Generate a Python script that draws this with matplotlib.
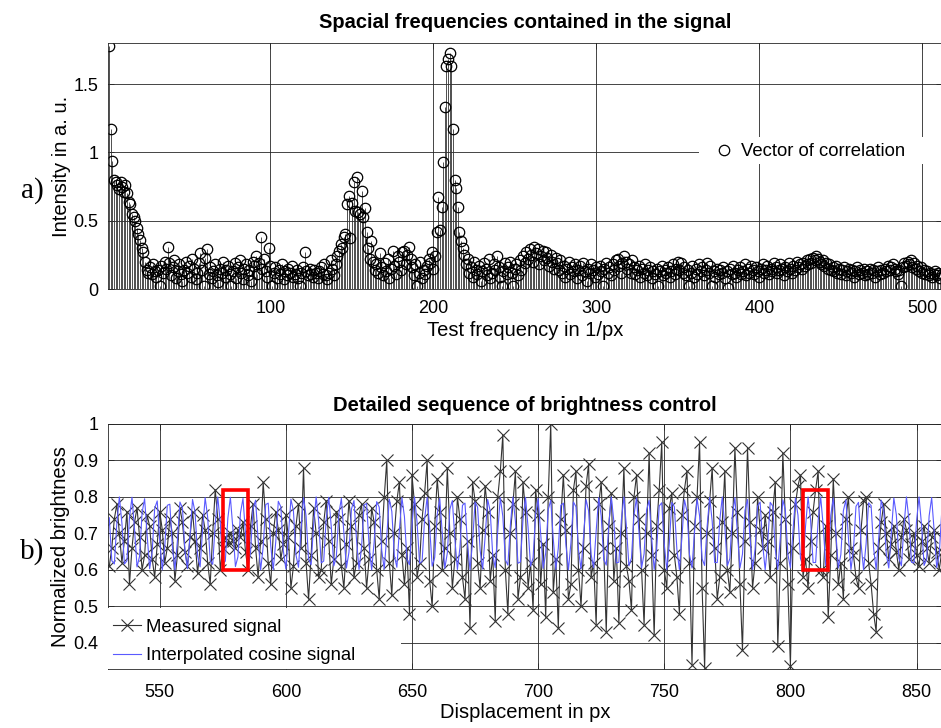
import numpy as np
import matplotlib
matplotlib.use("Agg")
import matplotlib.pyplot as plt
from matplotlib.patches import Rectangle

plt.rcParams['font.family'] = ['Liberation Sans', 'DejaVu Sans']

# ---- a) correlation vector, test frequency 1..512 ----
corr = [
    1.78, 1.17, 0.94, 0.80, 0.78, 0.76, 0.73, 0.78, 0.75, 0.71,
    0.76, 0.70, 0.64, 0.62, 0.55, 0.53, 0.50, 0.45, 0.40, 0.36,
    0.30, 0.27, 0.20, 0.14, 0.12,
    0.16, 0.11, 0.18, 0.13, 0.09, 0.14, 0.02, 0.17, 0.12, 0.20,
    0.15, 0.31, 0.19, 0.10, 0.16, 0.21, 0.08, 0.13, 0.18, 0.11,
    0.06, 0.14, 0.20, 0.12, 0.17, 0.09, 0.22, 0.15, 0.07, 0.12,
    0.19, 0.26, 0.14, 0.02, 0.23, 0.29, 0.11, 0.16, 0.08, 0.13,
    0.18, 0.10, 0.05, 0.15, 0.12, 0.20, 0.09, 0.14, 0.17, 0.11,
    0.02, 0.13, 0.19, 0.08, 0.16, 0.21, 0.12, 0.07, 0.15, 0.18,
    0.10, 0.14, 0.06, 0.20, 0.17, 0.24, 0.11, 0.19, 0.38, 0.15,
    0.22, 0.13, 0.09, 0.30, 0.17, 0.02, 0.12, 0.16, 0.08, 0.14,
    0.11, 0.18, 0.07, 0.13, 0.10, 0.15, 0.12, 0.17, 0.09, 0.11,
    0.14, 0.08, 0.02, 0.12, 0.16, 0.27, 0.13, 0.10, 0.15, 0.11,
    0.09, 0.14, 0.12, 0.08, 0.13, 0.16, 0.11, 0.18, 0.10, 0.07,
    0.12, 0.21, 0.15, 0.10, 0.18, 0.24, 0.28, 0.33, 0.30, 0.38,
    0.40, 0.62, 0.68, 0.37, 0.63, 0.78, 0.57, 0.82, 0.56, 0.55,
    0.72, 0.53, 0.59, 0.42, 0.30, 0.22, 0.35, 0.20, 0.14, 0.18,
    0.12, 0.26, 0.16, 0.10, 0.19, 0.13, 0.22, 0.08, 0.15, 0.28,
    0.17, 0.11, 0.24, 0.20, 0.14, 0.27, 0.28, 0.18, 0.25, 0.31,
    0.22, 0.16, 0.10, 0.18, 0.02, 0.12, 0.20, 0.08, 0.14, 0.11,
    0.17, 0.22, 0.19, 0.27, 0.15, 0.24, 0.42, 0.67, 0.43, 0.60,
    0.93, 1.33, 1.63, 1.68, 1.73, 1.63, 1.17, 0.80, 0.74, 0.60,
    0.42, 0.35, 0.30, 0.25, 0.18, 0.22, 0.12, 0.16, 0.09, 0.20,
    0.14, 0.11, 0.17, 0.06, 0.13, 0.19, 0.15, 0.10, 0.22, 0.08,
    0.12, 0.18, 0.14, 0.24, 0.16, 0.09, 0.02, 0.13, 0.19, 0.11,
    0.16, 0.20, 0.12, 0.02, 0.15, 0.18, 0.10, 0.21, 0.14, 0.24,
    0.19, 0.27, 0.22, 0.29, 0.25, 0.20, 0.31, 0.26, 0.29, 0.18,
    0.24, 0.28, 0.21, 0.27, 0.23, 0.17, 0.25, 0.20, 0.15, 0.23,
    0.19, 0.14, 0.21, 0.12, 0.17, 0.09, 0.15, 0.20, 0.11, 0.16,
    0.13, 0.18, 0.08, 0.14, 0.17, 0.10, 0.19, 0.13, 0.06, 0.15,
    0.12, 0.18, 0.14, 0.09, 0.16, 0.11, 0.17, 0.13, 0.02, 0.15,
    0.19, 0.12, 0.16, 0.10, 0.18, 0.14, 0.21, 0.22, 0.17, 0.12,
    0.19, 0.24, 0.20, 0.15, 0.18, 0.12, 0.21, 0.16, 0.11, 0.14,
    0.17, 0.09, 0.15, 0.12, 0.18, 0.10, 0.14, 0.16, 0.08, 0.13,
    0.11, 0.15, 0.02, 0.13, 0.17, 0.10, 0.14, 0.12, 0.16, 0.09,
    0.13, 0.18, 0.11, 0.15, 0.20, 0.14, 0.19, 0.12, 0.16, 0.10,
    0.14, 0.02, 0.12, 0.17, 0.09, 0.15, 0.11, 0.18, 0.13, 0.16,
    0.10, 0.14, 0.19, 0.12, 0.17, 0.02, 0.13, 0.09, 0.15, 0.11,
    0.14, 0.12, 0.16, 0.08, 0.13, 0.01, 0.15, 0.11, 0.17, 0.12,
    0.09, 0.14, 0.16, 0.11, 0.13, 0.18, 0.10, 0.15, 0.12, 0.17,
    0.14, 0.11, 0.16, 0.13, 0.09, 0.15, 0.18, 0.12, 0.14, 0.17,
    0.11, 0.15, 0.13, 0.19, 0.16, 0.12, 0.14, 0.18, 0.15, 0.10,
    0.16, 0.13, 0.19, 0.15, 0.12, 0.17, 0.14, 0.20, 0.16, 0.18,
    0.15, 0.19, 0.17, 0.21, 0.18, 0.22, 0.19, 0.23, 0.21, 0.24,
    0.22, 0.20, 0.18, 0.21, 0.17, 0.19, 0.15, 0.18, 0.14, 0.16,
    0.13, 0.17, 0.12, 0.15, 0.11, 0.14, 0.16, 0.10, 0.13, 0.15,
    0.12, 0.14, 0.09, 0.13, 0.16, 0.11, 0.14, 0.12, 0.15, 0.10,
    0.13, 0.11, 0.15, 0.12, 0.14, 0.09, 0.13, 0.16, 0.11, 0.14,
    0.12, 0.15, 0.13, 0.17, 0.14, 0.16, 0.18, 0.15, 0.13, 0.11,
    0.14, 0.02, 0.16, 0.19, 0.17, 0.20, 0.18, 0.21, 0.16, 0.19,
    0.15, 0.17, 0.13, 0.16, 0.12, 0.14, 0.11, 0.13, 0.10, 0.12,
    0.09, 0.11, 0.13, 0.10, 0.12, 0.08, 0.11,
]
freq = np.arange(1, len(corr) + 1)

# ---- b) brightness sequence, displacement 530..860 px ----
disp_start = 530
measured = [
    0.61, 0.66, 0.74, 0.78, 0.70, 0.62, 0.68, 0.76, 0.56, 0.66,
    0.73, 0.77, 0.69, 0.60, 0.64, 0.75, 0.72, 0.63, 0.58, 0.67,
    0.76, 0.71, 0.62, 0.66, 0.74, 0.70, 0.57, 0.64, 0.77, 0.73,
    0.65, 0.61, 0.69, 0.76, 0.68, 0.59, 0.66, 0.75, 0.71, 0.62,
    0.56, 0.70, 0.82, 0.74, 0.60, 0.66, 0.69, 0.67, 0.70, 0.68,
    0.66, 0.71, 0.69, 0.73, 0.65, 0.60, 0.72, 0.78, 0.66, 0.58,
    0.68, 0.84, 0.74, 0.62, 0.56, 0.70, 0.76, 0.71, 0.63, 0.67,
    0.75, 0.69, 0.55, 0.61, 0.72, 0.78, 0.66, 0.88, 0.62, 0.52,
    0.64, 0.77, 0.70, 0.58, 0.60, 0.73, 0.79, 0.68, 0.56, 0.63,
    0.76, 0.74, 0.61, 0.55, 0.67, 0.79, 0.72, 0.58, 0.62, 0.75,
    0.78, 0.66, 0.55, 0.63, 0.77, 0.73, 0.60, 0.52, 0.68, 0.80,
    0.90, 0.62, 0.53, 0.70, 0.79, 0.84, 0.64, 0.56, 0.66, 0.48,
    0.86, 0.78, 0.58, 0.62, 0.74, 0.81, 0.90, 0.57, 0.50, 0.72,
    0.85, 0.76, 0.60, 0.66, 0.88, 0.70, 0.55, 0.63, 0.80, 0.74,
    0.58, 0.52, 0.68, 0.44, 0.84, 0.79, 0.62, 0.55, 0.71, 0.83,
    0.76, 0.57, 0.64, 0.46, 0.80, 0.87, 0.97, 0.60, 0.48, 0.70,
    0.78, 0.87, 0.52, 0.58, 0.84, 0.76, 0.55, 0.62, 0.49, 0.82,
    0.75, 0.56, 0.67, 0.47, 0.80, 1.00, 0.54, 0.63, 0.44, 0.74,
    0.86, 0.71, 0.52, 0.56, 0.82, 0.87, 0.60, 0.50, 0.66, 0.83,
    0.89, 0.58, 0.62, 0.45, 0.78, 0.84, 0.66, 0.43, 0.72, 0.81,
    0.57, 0.66, 0.455, 0.70, 0.88, 0.61, 0.57, 0.49, 0.80, 0.86,
    0.74, 0.60, 0.45, 0.70, 0.92, 0.64, 0.42, 0.72, 0.82, 0.95,
    0.60, 0.55, 0.77, 0.81, 0.64, 0.58, 0.48, 0.75, 0.82, 0.87,
    0.62, 0.34, 0.72, 0.80, 0.95, 0.55, 0.33, 0.70, 0.79, 0.88,
    0.66, 0.52, 0.58, 0.73, 0.87, 0.60, 0.54, 0.70, 0.935, 0.76,
    0.56, 0.38, 0.68, 0.935, 0.73, 0.55, 0.62, 0.80, 0.71, 0.66,
    0.75, 0.68, 0.58, 0.76, 0.84, 0.39, 0.62, 0.92, 0.74, 0.56,
    0.337, 0.66, 0.78, 0.83, 0.86, 0.58, 0.63, 0.55, 0.68, 0.76,
    0.82, 0.87, 0.60, 0.58, 0.72, 0.47, 0.64, 0.85, 0.70, 0.56,
    0.62, 0.52, 0.74, 0.80, 0.66, 0.64, 0.58, 0.55, 0.71, 0.79,
    0.80, 0.62, 0.56, 0.48, 0.43, 0.66, 0.73, 0.78, 0.70, 0.63,
    0.67, 0.72, 0.65, 0.60, 0.69, 0.74, 0.71, 0.63, 0.67, 0.70,
    0.64, 0.61, 0.68, 0.72, 0.66, 0.62, 0.69, 0.71, 0.65, 0.60,
    0.65,
]
cosine = [
    .743, .625, .616, .728, .800, .728, .616, .625, .743, .799,
    .712, .608, .637, .757, .795, .696, .603, .650, .769, .789,
    .680, .600, .664, .777, .780, .665, .600, .679, .786, .770,
    .651, .603, .695, .793, .758, .638, .608, .711, .798, .744,
    .626, .615, .727, .800, .729, .616, .624, .742, .799, .713,
    .609, .636, .756, .796, .698, .603, .649, .768, .791, .682,
    .600, .663, .779, .783, .666, .600, .678, .788, .773, .652,
    .602, .694, .794, .761, .641, .607, .710, .798, .748, .629,
    .614, .725, .800, .734, .619, .624, .741, .799, .718, .611,
    .635, .754, .796, .702, .605, .648, .767, .790, .683, .601,
    .662, .778, .782, .667, .600, .677, .787, .772, .653, .602,
    .693, .794, .760, .639, .607, .709, .798, .746, .628, .614,
    .724, .800, .731, .618, .623, .739, .799, .716, .610, .634,
    .753, .796, .700, .604, .646, .766, .790, .684, .601, .661,
    .777, .783, .669, .600, .676, .786, .772, .654, .602, .692,
    .793, .761, .640, .606, .707, .798, .747, .628, .613, .723,
    .800, .733, .618, .622, .738, .799, .717, .610, .633, .752,
    .796, .701, .604, .646, .765, .791, .685, .601, .660, .777,
    .783, .670, .600, .674, .786, .773, .655, .602, .690, .793,
    .762, .642, .606, .706, .798, .748, .629, .613, .722, .800,
    .734, .619, .621, .737, .800, .718, .611, .632, .751, .797,
    .702, .605, .644, .764, .791, .687, .601, .658, .775, .784,
    .671, .600, .673, .785, .773, .656, .601, .689, .792, .761,
    .642, .605, .705, .796, .748, .630, .612, .720, .799, .733,
    .620, .620, .736, .800, .718, .611, .631, .750, .798, .702,
    .605, .643, .763, .793, .686, .601, .657, .775, .786, .671,
    .600, .672, .785, .775, .657, .601, .688, .792, .764, .643,
    .605, .704, .797, .750, .631, .611, .719, .800, .736, .620,
    .620, .735, .800, .721, .612, .630, .749, .797, .705, .605,
    .642, .762, .792, .689, .601, .656, .774, .785, .673, .600,
    .671, .784, .776, .658, .601, .686, .791, .764, .644, .605,
    .702, .797, .751, .632, .611, .718, .800, .737, .621, .619,
    .734, .800, .722, .612, .629, .748, .798, .706, .606, .641,
    .761,
]
disp = np.arange(disp_start, disp_start + len(measured))
disp_cos = np.arange(disp_start, disp_start + len(cosine))

# windows marked in red
box_x = [575, 805]
box_w = 10
box_y0 = 0.60
box_y1 = 0.82

TICK_FS = 13
LAB_FS = 14.5
LEG_FS = 13.3

fig = plt.figure(figsize=(9.41, 7.28), dpi=100)
ax1 = fig.add_axes([0.1148, 0.6030, 0.886, 0.3379])
ax2 = fig.add_axes([0.1148, 0.0810, 0.886, 0.3366])

for ax in (ax1, ax2):
    ax.grid(True, color='0.15', linewidth=0.6)
    ax.set_axisbelow(True)
    ax.tick_params(direction='in', top=True, right=True,
                   labelsize=TICK_FS, length=4, width=0.6, color='0.15')
    ax.tick_params(axis='y', pad=7)
    for s in ax.spines.values():
        s.set_linewidth(0.6)
        s.set_color('0.15')
ax1.tick_params(axis='x', pad=8)
ax2.tick_params(axis='x', pad=11)

# a) stem plot
ml, sl, bl = ax1.stem(freq, corr, linefmt='-', markerfmt='o', basefmt=' ')
plt.setp(sl, color='0.2', linewidth=0.6)
plt.setp(ml, markerfacecolor='none', markeredgecolor='black',
         markersize=7.5, markeredgewidth=0.9)
ax1.set_xlim(0.3, 512)
ax1.set_ylim(0, 1.8)
ax1.set_xticks([100, 200, 300, 400, 500])
ax1.set_yticks([0, 0.5, 1, 1.5])
ax1.set_yticklabels(['0', '0.5', '1', '1.5'])
ax1.set_title('Spacial frequencies contained in the signal',
              fontsize=LAB_FS, fontweight='bold', pad=11)
ax1.set_xlabel('Test frequency in 1/px', fontsize=LAB_FS, labelpad=3)
ax1.set_ylabel('Intensity in a. u.', fontsize=LAB_FS, labelpad=2)

# legend sits on a plain white patch, as in the original
ax1.add_patch(Rectangle((0.709, 0.51), 0.29, 0.107, transform=ax1.transAxes,
                        facecolor='white', edgecolor='none', zorder=4))
leg1 = ax1.legend([ml], ['Vector of correlation'], loc='center',
                  bbox_to_anchor=(0.842, 0.558), fontsize=LEG_FS,
                  frameon=False, handlelength=1.0, handletextpad=0.45)
leg1.set_zorder(5)

# b) measured vs cosine
ax2.plot(disp, measured, color='0.2', linewidth=0.8, marker='x',
         markersize=8, markeredgewidth=0.8, label='Measured signal')
ax2.plot(disp_cos, cosine, color='#5a5aff', linewidth=0.8,
         label='Interpolated cosine signal')
for bx in box_x:
    ax2.add_patch(Rectangle((bx, box_y0), box_w, box_y1 - box_y0,
                            fill=False, edgecolor='red', linewidth=2.6,
                            zorder=5))
ax2.set_xlim(529.5, 860)
ax2.set_ylim(0.328, 1.0)
ax2.set_xticks([550, 600, 650, 700, 750, 800, 850])
ax2.set_yticks([0.4, 0.5, 0.6, 0.7, 0.8, 0.9, 1.0])
ax2.set_yticklabels(['0.4', '0.5', '0.6', '0.7', '0.8', '0.9', '1'])
ax2.set_title('Detailed sequence of brightness control',
              fontsize=LAB_FS, fontweight='bold', pad=9)
ax2.set_xlabel('Displacement in px', fontsize=LAB_FS, labelpad=1)
ax2.set_ylabel('Normalized brightness', fontsize=LAB_FS, labelpad=2)

ax2.add_patch(Rectangle((0, 0), 0.352, 0.25, transform=ax2.transAxes,
                        facecolor='white', edgecolor='none', zorder=4))
leg2 = ax2.legend(loc='lower left', bbox_to_anchor=(0.0, 0.0),
                  fontsize=LEG_FS, frameon=False, borderaxespad=0.0,
                  handlelength=1.55, borderpad=0.25, labelspacing=0.62,
                  handletextpad=0.25)
leg2.set_zorder(5)

fig.text(0.034, 0.738, 'a)', family='Liberation Serif', fontsize=21,
         ha='center', va='center')
fig.text(0.034, 0.242, 'b)', family='Liberation Serif', fontsize=21,
         ha='center', va='center')

fig.savefig('out.png', dpi=100)
